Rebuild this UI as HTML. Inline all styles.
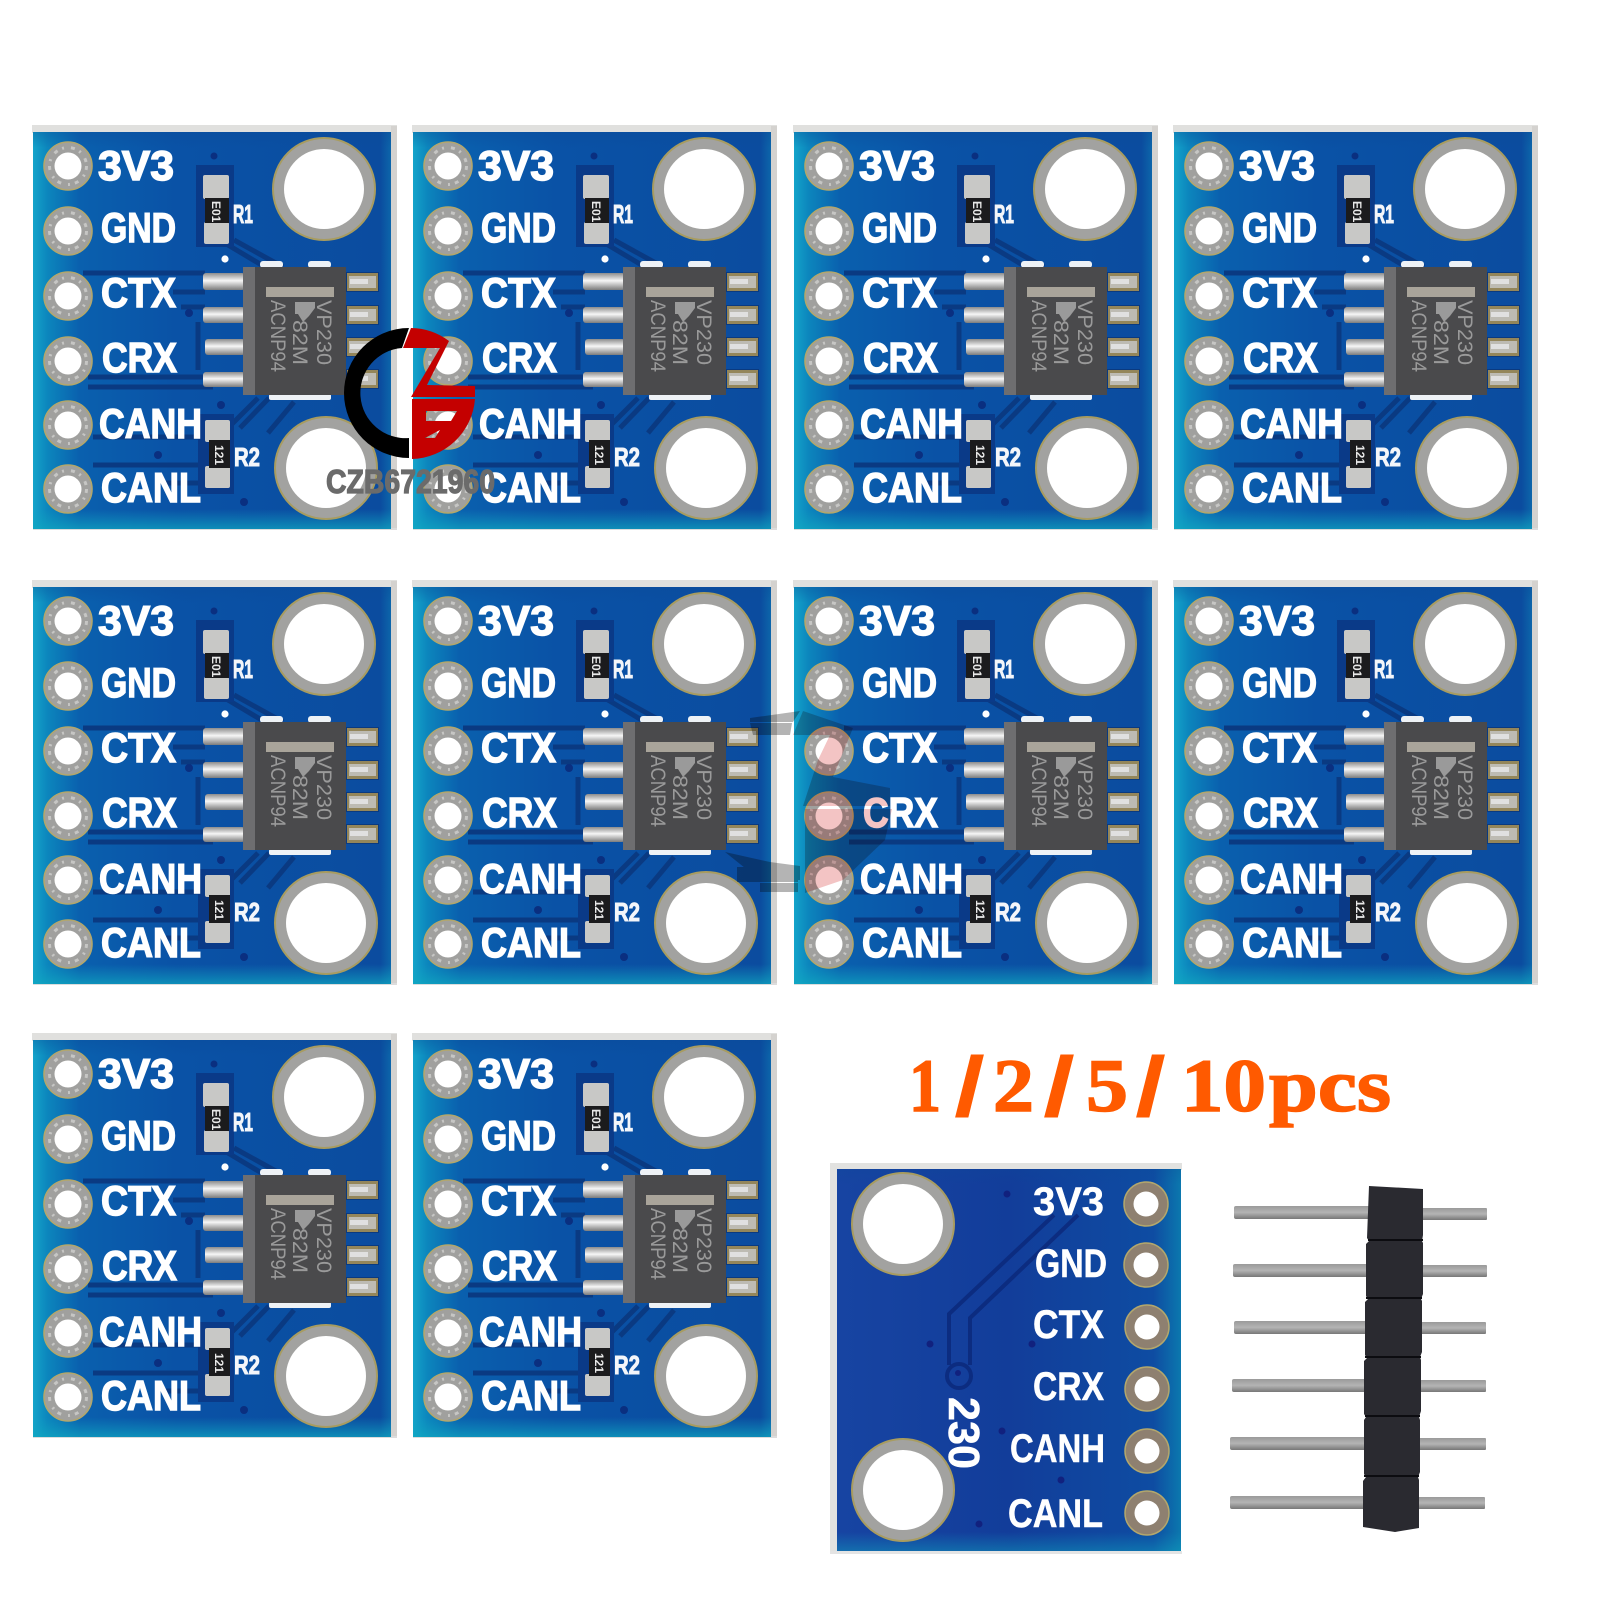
<!DOCTYPE html>
<html><head><meta charset="utf-8"><style>html,body{margin:0;padding:0;background:#fff}svg{display:block}</style></head>
<body>
<svg xmlns="http://www.w3.org/2000/svg" width="1600" height="1600" viewBox="0 0 1600 1600" font-family="'Liberation Sans',sans-serif">
<defs>
<linearGradient id="bh" x1="0" x2="1" y1="0" y2="0"><stop offset="0" stop-color="#14a4ca"/><stop offset=".04" stop-color="#0c86bd"/><stop offset=".13" stop-color="#0a60ae"/><stop offset=".4" stop-color="#0a52a6"/><stop offset=".97" stop-color="#0b4c9f"/><stop offset="1" stop-color="#0c66aa"/></linearGradient>
<linearGradient id="bv" x1="0" x2="0" y1="0" y2="1"><stop offset="0" stop-color="#0a4a98" stop-opacity=".35"/><stop offset=".04" stop-color="#0a4a98" stop-opacity="0"/><stop offset=".95" stop-color="#0fa0c0" stop-opacity="0"/><stop offset="1" stop-color="#0fa8c0" stop-opacity=".7"/></linearGradient>
<linearGradient id="bk" x1="0" x2="1" y1="0" y2="0"><stop offset="0" stop-color="#1744a2"/><stop offset=".5" stop-color="#123d9a"/><stop offset=".92" stop-color="#0e4ca2"/><stop offset="1" stop-color="#0c78ae"/></linearGradient>
<linearGradient id="lead" x1="0" x2="0" y1="0" y2="1"><stop offset="0" stop-color="#8c8c8c"/><stop offset=".45" stop-color="#f6f6f6"/><stop offset="1" stop-color="#7c7c7c"/></linearGradient>
<linearGradient id="pin" x1="0" x2="0" y1="0" y2="1"><stop offset="0" stop-color="#9a9a9a"/><stop offset=".5" stop-color="#b4b4b4"/><stop offset="1" stop-color="#777"/></linearGradient>
<g id="pad">
<circle r="24" fill="#a0a09e" stroke="#b3a76c" stroke-width="1.6"/>
<circle r="18.5" fill="none" stroke="#c6c6c4" stroke-width="3" stroke-dasharray="4 5 2 7"/>
<circle r="13.5" fill="#fff"/>
</g>
<g id="mh"><circle r="51" fill="#a2a2a0" stroke="#a89c60" stroke-width="2"/><circle r="40" fill="#fff"/></g>
<g id="rl"><rect x="-1" y="-1" width="34" height="20" fill="#0a3a80"/><rect x="1" y="0" width="31" height="18" fill="#94865a"/><rect x="3" y="3" width="27" height="12" fill="#bdbbb3"/><rect x="4" y="6" width="18" height="5" fill="#e0e0e0"/></g>
<g id="board">
<rect x="-1" y="-7" width="365" height="8" fill="#e0e0de"/>
<rect x="358" y="-6" width="6" height="403" fill="#d4d2cf"/>
<rect x="0" y="396" width="364" height="2" fill="#dcdcdc"/>
<rect width="358" height="397" fill="url(#bh)"/>
<rect width="358" height="397" fill="url(#bv)"/>
<g fill="none" stroke="#0a3a82" stroke-width="5">
<path d="M50 141H172M140 160H172M148 175H172M165 190V238M55 245H170M55 255H180M60 305H170M60 333H172M130 351H172"/>
<path d="M201 108L250 135M190 110L232 135"/>
<path d="M225 266L198 293M261 270L235 301M236 266L207 296"/>
</g>
<rect x="163" y="33" width="38" height="82" fill="#0a3a88"/>
<rect x="165" y="282" width="36" height="80" fill="#0a3a88"/>
<use href="#pad" x="35" y="34"/><use href="#pad" x="35" y="99"/><use href="#pad" x="35" y="164"/><use href="#pad" x="35" y="229"/><use href="#pad" x="35" y="293"/><use href="#pad" x="35" y="357"/>
<use href="#mh" x="291" y="57"/><use href="#mh" x="293" y="336"/>
<g fill="#fff" stroke="#fff" stroke-width="1.4" font-weight="700" font-size="42">
<text x="65" y="48" textLength="76" lengthAdjust="spacingAndGlyphs">3V3</text>
<text x="68" y="110" textLength="75" lengthAdjust="spacingAndGlyphs">GND</text>
<text x="68" y="175" textLength="75" lengthAdjust="spacingAndGlyphs">CTX</text>
<text x="69" y="240" textLength="75" lengthAdjust="spacingAndGlyphs">CRX</text>
<text x="66" y="306" textLength="103" lengthAdjust="spacingAndGlyphs">CANH</text>
<text x="68" y="370" textLength="100" lengthAdjust="spacingAndGlyphs">CANL</text>
</g>
<g fill="#0a2f80"><circle cx="181" cy="24" r="3.5"/><circle cx="156" cy="181" r="4"/><circle cx="125" cy="323" r="4"/><circle cx="188" cy="273" r="4"/><circle cx="211" cy="370" r="4"/></g>
<circle cx="192" cy="127" r="3.6" fill="#fff"/>
<g fill="#eef2f6"><rect x="227" y="129" width="23" height="7" rx="3"/><rect x="275" y="129" width="23" height="7" rx="3"/><rect x="236" y="262" width="62" height="6" rx="2"/></g>
<g fill="url(#lead)"><rect x="170" y="141" width="42" height="17" rx="3"/><rect x="170" y="175" width="42" height="16" rx="3"/><rect x="172" y="207" width="40" height="16" rx="3"/><rect x="170" y="240" width="42" height="15" rx="3"/></g>
<use href="#rl" x="313" y="141"/><use href="#rl" x="313" y="174"/><use href="#rl" x="313" y="206"/><use href="#rl" x="313" y="238"/>
<rect x="210" y="135" width="103" height="128" fill="#4a4a4c"/>
<rect x="210" y="135" width="12" height="128" fill="#6e6e70"/>
<rect x="233" y="155" width="68" height="10" fill="#a9a49a"/>
<g fill="#9a9a9a" font-size="21">
<text transform="translate(284,168) rotate(90)" textLength="65" lengthAdjust="spacingAndGlyphs">VP230</text>
<text transform="translate(260,188) rotate(90)" textLength="45" lengthAdjust="spacingAndGlyphs">82M</text>
<text transform="translate(238,168) rotate(90)" textLength="72" lengthAdjust="spacingAndGlyphs">ACNP94</text>
</g>
<path d="M262 170H282V176L276 184L270 190L265 182H262Z" fill="#9a9a9a"/>
<g fill="#c8c8c6"><rect x="170" y="43" width="26" height="24" rx="2"/><rect x="171" y="90" width="25" height="22" rx="2"/><rect x="172" y="288" width="25" height="22" rx="2"/><rect x="172" y="334" width="25" height="22" rx="2"/></g>
<rect x="172" y="66" width="24" height="25" fill="#1b1b1d"/>
<rect x="176" y="308" width="21" height="28" fill="#1b1b1d"/>
<g fill="#e8e8e8" font-size="12" font-weight="700">
<text transform="translate(179,69) rotate(90)">E01</text>
<text transform="translate(182,313) rotate(90)">121</text>
</g>
<g fill="#f4f6fa" font-weight="700" font-size="26" stroke="#f4f6fa" stroke-width="1">
<text x="200" y="91" textLength="20" lengthAdjust="spacingAndGlyphs">R1</text>
<text x="201" y="334" textLength="26" lengthAdjust="spacingAndGlyphs">R2</text>
</g>
</g>
<g id="logo">
<path d="M-1-65A65 65 0 0 0-1 65L-1 45A45 45 0 0 1-8-45Z" fill="#000"/>
<path d="M1-65A65 65 0 0 1 39-52L17-8L65-7L65 4L1 4L30-45L-7-45Z" fill="#c40000"/>
<path fill-rule="evenodd" d="M2 6L65 6A65 65 0 0 1 2 66ZM16 18L47 18L41 28L16 28ZM15 45L30 37L25 45Z" fill="#c40000"/>
</g>
</defs>

<use href="#board" x="33" y="132"/><use href="#board" x="413" y="132"/><use href="#board" x="794" y="132"/><use href="#board" x="1174" y="132"/>
<use href="#board" x="33" y="587"/><use href="#board" x="413" y="587"/><use href="#board" x="794" y="587"/><use href="#board" x="1174" y="587"/>
<use href="#board" x="33" y="1040"/><use href="#board" x="413" y="1040"/>

<use href="#logo" transform="translate(410,393)"/>
<text x="326" y="493" font-size="33" font-weight="700" fill="#6b6b6b" stroke="#6b6b6b" stroke-width="1.2" textLength="169" lengthAdjust="spacingAndGlyphs">CZB6721960</text>

<!-- faint watermark -->
<g style="mix-blend-mode:multiply" fill="#b4b4b4">
<path d="M750 718L800 711L793 722H750ZM750 723H792L790 735H753Z"/>
<path d="M725 852L770 862L800 866V880L760 880ZM737 867H798V882H737ZM760 883H798V892H760Z"/>
</g>
<g style="mix-blend-mode:multiply" fill="#f3c4c4">
<path d="M803 711L853 728L833 777L890 788V806H803L818 760L830 735H793Z"/>
<path d="M805 809H892L885 840L843 880L805 893Z"/>
</g>

<!-- title -->
<g font-family="'Liberation Serif',serif" font-weight="700" font-size="75" fill="#ff5a00" stroke="#ff5a00" stroke-width="1.5">
<text x="909" y="1111" textLength="32" lengthAdjust="spacingAndGlyphs">1</text>
<text x="993" y="1111" textLength="41" lengthAdjust="spacingAndGlyphs">2</text>
<text x="1086" y="1111" textLength="42" lengthAdjust="spacingAndGlyphs">5</text>
<text x="1181" y="1111" textLength="85" lengthAdjust="spacingAndGlyphs">10</text>
<text x="1269" y="1111" textLength="122" lengthAdjust="spacingAndGlyphs">pcs</text>
</g>
<g font-weight="700" font-size="84" fill="#ff5a00">
<text x="954" y="1116" textLength="31" lengthAdjust="spacingAndGlyphs">/</text>
<text x="1043" y="1116" textLength="32" lengthAdjust="spacingAndGlyphs">/</text>
<text x="1135" y="1116" textLength="31" lengthAdjust="spacingAndGlyphs">/</text>
</g>

<!-- back board -->
<rect x="830" y="1163" width="352" height="7" fill="#e2e2e0"/>
<rect x="830" y="1163" width="7" height="390" fill="#e2e2e0"/>
<rect x="830" y="1551" width="352" height="3" fill="#e4e4e4"/>
<rect x="837" y="1169" width="344" height="382" fill="url(#bk)"/>
<rect x="837" y="1169" width="344" height="382" fill="url(#bv)" opacity=".6"/>
<g fill="none" stroke="#0c2c80" stroke-width="4">
<path d="M1054 1215L949 1314V1365"/><path d="M1078 1215L970 1318V1365"/>
<circle cx="959" cy="1376" r="12"/>
</g>
<g fill="#11217e"><circle cx="1007" cy="1194" r="3.5"/><circle cx="930" cy="1344" r="3.5"/><circle cx="1032" cy="1344" r="3.5"/><circle cx="958" cy="1373" r="3"/><circle cx="1002" cy="1431" r="3.5"/><circle cx="1061" cy="1480" r="3.5"/><circle cx="979" cy="1524" r="3.5"/></g>
<g><use href="#mh" x="903" y="1224"/><use href="#mh" x="903" y="1490"/></g>
<g fill="#8e8070" stroke="#b3a76c" stroke-width="1.5">
<circle cx="1146" cy="1204" r="22"/><circle cx="1146" cy="1265" r="22"/><circle cx="1147" cy="1327" r="22"/><circle cx="1147" cy="1389" r="22"/><circle cx="1147" cy="1451" r="22"/><circle cx="1147" cy="1513" r="22"/>
</g>
<g fill="#fff"><circle cx="1146" cy="1204" r="12.5"/><circle cx="1146" cy="1265" r="12.5"/><circle cx="1147" cy="1327" r="12.5"/><circle cx="1147" cy="1389" r="12.5"/><circle cx="1147" cy="1451" r="12.5"/><circle cx="1147" cy="1513" r="12.5"/></g>
<g fill="#fff" stroke="#fff" stroke-width=".5" font-weight="700" font-size="40">
<text x="1033" y="1215" textLength="71" lengthAdjust="spacingAndGlyphs">3V3</text>
<text x="1035" y="1277" textLength="72" lengthAdjust="spacingAndGlyphs">GND</text>
<text x="1033" y="1338" textLength="71" lengthAdjust="spacingAndGlyphs">CTX</text>
<text x="1033" y="1400" textLength="71" lengthAdjust="spacingAndGlyphs">CRX</text>
<text x="1010" y="1462" textLength="95" lengthAdjust="spacingAndGlyphs">CANH</text>
<text x="1008" y="1527" textLength="95" lengthAdjust="spacingAndGlyphs">CANL</text>
<text transform="translate(949,1397) rotate(90)" font-size="44" textLength="72" lengthAdjust="spacingAndGlyphs">230</text>
</g>

<!-- pin header -->
<g fill="url(#pin)">
<rect x="1234" y="1206" width="140" height="13" rx="2"/><rect x="1233" y="1264" width="140" height="13" rx="2"/><rect x="1234" y="1321" width="140" height="13" rx="2"/><rect x="1232" y="1379" width="140" height="13" rx="2"/><rect x="1230" y="1437" width="140" height="13" rx="2"/><rect x="1230" y="1496" width="140" height="13" rx="2"/>
<rect x="1415" y="1208" width="72" height="12" rx="1"/><rect x="1415" y="1265" width="72" height="12" rx="1"/><rect x="1415" y="1322" width="71" height="12" rx="1"/><rect x="1415" y="1380" width="71" height="12" rx="1"/><rect x="1415" y="1438" width="71" height="12" rx="1"/><rect x="1415" y="1497" width="70" height="12" rx="1"/>
</g>
<path d="M1369 1186L1423 1189V1235L1422 1241L1423 1243V1294L1421 1299L1422 1301V1352L1420 1357L1421 1360V1411L1419 1417L1420 1420V1472L1418 1477L1419 1480V1528L1395 1532L1363 1527V1481L1366 1477L1364 1474V1420L1366 1417L1364 1414V1361L1367 1358L1365 1355V1302L1368 1299L1366 1296V1244L1369 1241L1367 1238Z" fill="#2a2a30"/>
<g stroke="#0c0c10" stroke-width="2"><path d="M1368 1240H1423M1366 1298H1422M1365 1357H1421M1365 1416H1420M1364 1476H1419"/></g>
</svg>
</body></html>
